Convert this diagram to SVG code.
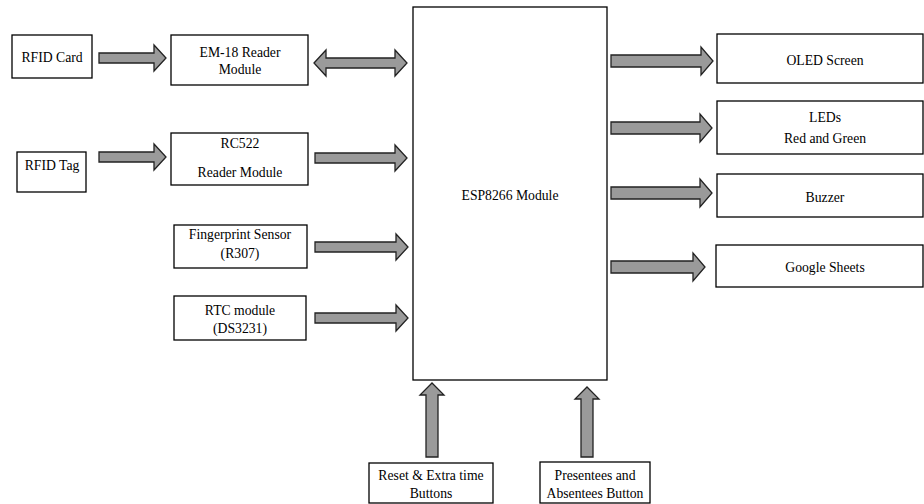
<svg xmlns="http://www.w3.org/2000/svg" width="924" height="504" viewBox="0 0 924 504">
<style>
.box{fill:#fff;stroke:#000;stroke-width:1.3}
.arr{fill:#9a9a9a;stroke:#222;stroke-width:1.3;stroke-linejoin:miter}
.t{font-family:'Liberation Serif','Times New Roman','DejaVu Serif',serif;font-size:13.7px;fill:#000;text-anchor:middle}
</style>
<rect width="924" height="504" fill="#fff"/>
<g id="connectors">
<path class="arr" d="M99,53 H154 V45 L166,58 L154,71 V63 H99 Z"/>
<path class="arr" d="M314,63 L326,50 V58 H395 V50 L407,63 L395,76 V68 H326 V76 Z"/>
<path class="arr" d="M99,152 H154 V144 L166,157 L154,170 V162 H99 Z"/>
<path class="arr" d="M315,153 H395 V145 L407,158 L395,171 V163 H315 Z"/>
<path class="arr" d="M315,242 H396 V234 L408,247 L396,260 V252 H315 Z"/>
<path class="arr" d="M315,313 H396 V305 L408,318 L396,331 V323 H315 Z"/>
<path class="arr" d="M611,55 H701 V47 L713,61 L701,75 V67 H611 Z"/>
<path class="arr" d="M611,122 H700 V114 L712,128 L700,142 V134 H611 Z"/>
<path class="arr" d="M611,187 H700 V179 L712,193 L700,207 V199 H611 Z"/>
<path class="arr" d="M611,261 H693 V253 L705,267 L693,281 V273 H611 Z"/>
<path class="arr" d="M426,457 V395 H420 L432,383 L444,395 H438 V457 Z"/>
<path class="arr" d="M581,457 V399 H575 L587,387 L599,399 H593 V457 Z"/>
</g>
<g class="t">
<g id="rfid-card"><rect class="box" x="12" y="35" width="80" height="43"/><text x="52" y="62">RFID Card</text></g>
<g id="em18"><rect class="box" x="171" y="35" width="137" height="50"/><text x="240" y="57">EM-18 Reader</text><text x="240" y="74">Module</text></g>
<g id="rfid-tag"><rect class="box" x="17" y="152" width="69" height="40"/><text x="52" y="170">RFID Tag</text></g>
<g id="rc522"><rect class="box" x="171" y="133" width="137" height="52"/><text x="240" y="148">RC522</text><text x="240" y="177">Reader Module</text></g>
<g id="fingerprint"><rect class="box" x="174" y="225" width="133" height="43"/><text x="240" y="239">Fingerprint Sensor</text><text x="240" y="258">(R307)</text></g>
<g id="rtc"><rect class="box" x="174" y="296" width="132" height="44"/><text x="240" y="315">RTC module</text><text x="240" y="333">(DS3231)</text></g>
<g id="esp8266"><rect class="box" x="413" y="7" width="194" height="373"/><text x="510" y="200">ESP8266 Module</text></g>
<g id="oled"><rect class="box" x="717" y="34" width="206" height="49"/><text x="825" y="65">OLED Screen</text></g>
<g id="leds"><rect class="box" x="717" y="101" width="206" height="53"/><text x="825" y="122">LEDs</text><text x="825" y="143">Red and Green</text></g>
<g id="buzzer"><rect class="box" x="717" y="174" width="206" height="43"/><text x="825" y="202">Buzzer</text></g>
<g id="google-sheets"><rect class="box" x="716" y="245" width="207" height="42"/><text x="825" y="272">Google Sheets</text></g>
<g id="reset-buttons"><rect class="box" x="369" y="463" width="124" height="40"/><text x="431" y="480">Reset &amp; Extra time</text><text x="431" y="498">Buttons</text></g>
<g id="presentees-buttons"><rect class="box" x="540" y="462" width="110" height="41"/><text x="595" y="480">Presentees and</text><text x="595" y="498">Absentees Button</text></g>
</g>
</svg>
